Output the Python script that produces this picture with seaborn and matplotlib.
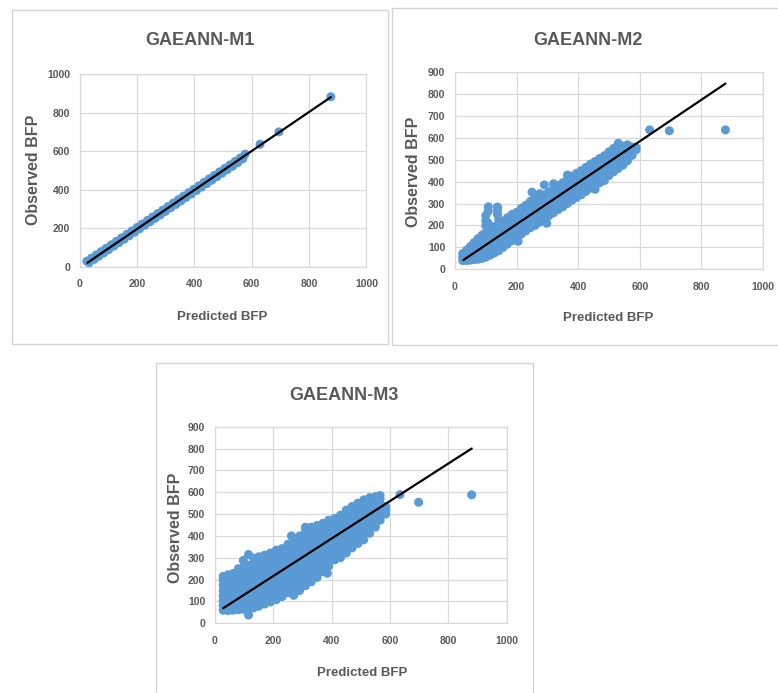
import matplotlib
matplotlib.use("Agg")
import matplotlib.pyplot as plt
import seaborn as sns
import pandas as pd
from matplotlib import font_manager
from matplotlib.patches import Rectangle

# ---------------- data ----------------
titles = ["GAEANN-M1", "GAEANN-M2", "GAEANN-M3"]
x_label = "Predicted BFP"
y_label = "Observed BFP"
x_ticks = [0, 200, 400, 600, 800, 1000]
y_ticks_m1 = [0, 200, 400, 600, 800, 1000]
y_ticks_m23 = [0, 100, 200, 300, 400, 500, 600, 700, 800, 900]

# GAEANN-M1 : points hug the 1:1 line
m1_pred = [25, 33, 41, 50, 58, 67, 75, 84, 92, 101, 110, 119, 128, 137, 146, 155,
           164, 173, 182, 191, 200, 209, 218, 227, 236, 245, 254, 263, 272, 281,
           290, 299, 308, 317, 326, 335, 344, 353, 362, 371, 380, 389, 398, 407,
           416, 425, 434, 443, 452, 461, 470, 479, 488, 497, 506, 515, 524, 533,
           542, 551, 560, 569, 577, 629, 695, 876]
m1_obs = [30, 22, 46, 39, 63, 56, 80, 73, 97, 90, 115, 108, 133, 126, 151, 144,
          169, 162, 187, 180, 205, 198, 223, 216, 241, 234, 259, 252, 277, 270,
          295, 288, 313, 306, 331, 324, 349, 342, 367, 360, 385, 378, 403, 396,
          421, 414, 439, 432, 457, 450, 475, 468, 493, 486, 511, 504, 529, 522,
          547, 540, 565, 560, 585, 636, 700, 882]
m1_trend_x = [27, 876]
m1_trend_y = [22, 880]

# GAEANN-M2 : columns of observed values at each predicted value
m2_pred_cols = [25, 38, 50, 62, 75, 88, 100, 108, 115, 128, 138, 142, 156, 170,
                185, 200, 205, 215, 230, 245, 250, 260, 275, 290, 298, 305, 320,
                335, 350, 365, 380, 395, 410, 425, 440, 455, 470, 485, 500, 515,
                530, 545, 560, 575, 588, 632, 696, 878]
m2_obs_cols = [
    [40, 56, 72],
    [40, 56, 72, 88],
    [42, 58, 74, 90, 104],
    [44, 60, 76, 92, 108, 122],
    [46, 62, 78, 94, 110, 126, 140],
    [50, 68, 86, 104, 122, 140, 156],
    [55, 74, 93, 112, 131, 150, 168, 200, 222, 245],
    [210, 265, 285],
    [65, 84, 103, 122, 141, 160, 178],
    [75, 95, 115, 135, 155, 175, 195],
    [250, 270, 284],
    [85, 105, 125, 145, 165, 185, 205, 225],
    [100, 120, 140, 160, 180, 200, 220],
    [115, 135, 155, 175, 195, 215, 235],
    [130, 150, 170, 190, 210, 230, 250],
    [140, 160, 180, 200, 220, 240, 260],
    [128],
    [160, 180, 200, 220, 240, 260, 278],
    [175, 195, 215, 235, 255, 275, 292],
    [190, 210, 230, 250, 270, 290, 310],
    [352],
    [200, 222, 244, 266, 288, 310, 330],
    [215, 237, 259, 281, 303, 325, 345],
    [230, 252, 274, 296, 318, 340, 385],
    [210],
    [245, 265, 287, 309, 331, 353],
    [258, 280, 302, 324, 346, 368, 390],
    [272, 294, 316, 338, 360, 382],
    [285, 307, 329, 351, 373, 395],
    [300, 322, 344, 366, 388, 410, 430],
    [315, 337, 359, 381, 403, 425],
    [328, 350, 372, 394, 416, 438],
    [340, 362, 384, 406, 428, 450],
    [355, 377, 399, 421, 443, 465],
    [370, 392, 414, 436, 458, 480],
    [365, 382, 404, 426, 448, 470, 492],
    [395, 418, 440, 462, 484, 506],
    [405, 430, 452, 474, 496, 518],
    [428, 450, 472, 494, 516, 536],
    [445, 465, 487, 509, 531, 552],
    [460, 480, 502, 524, 546, 575],
    [475, 497, 519, 541, 562],
    [495, 515, 535, 555, 568],
    [520, 540, 558],
    [545, 555],
    [636],
    [632],
    [636],
]
m2_trend_x = [27, 878]
m2_trend_y = [42, 847]

# GAEANN-M3 : wider cloud
m3_pred_cols = [28, 45, 62, 80, 97, 115, 132, 150, 170, 190, 210, 230, 250, 262,
                270, 290, 310, 330, 350, 370, 385, 390, 410, 430, 450, 470, 490,
                510, 530, 550, 566, 585, 634, 698, 880]
m3_obs_cols = [
    [60, 82, 104, 126, 150, 175, 200, 215],
    [58, 80, 102, 124, 148, 172, 196, 222],
    [60, 84, 108, 132, 156, 180, 204, 228],
    [62, 86, 110, 134, 158, 182, 206, 230, 250],
    [64, 88, 112, 136, 160, 184, 208, 232, 258, 288],
    [38, 66, 90, 115, 140, 165, 190, 215, 240, 265, 315],
    [70, 95, 120, 145, 170, 195, 220, 245, 270, 298],
    [78, 102, 126, 150, 175, 200, 225, 250, 275, 305],
    [88, 112, 136, 160, 185, 210, 235, 260, 285, 312],
    [98, 122, 146, 170, 195, 220, 245, 270, 295, 322],
    [108, 132, 156, 180, 205, 230, 255, 280, 305, 335],
    [122, 146, 170, 195, 220, 245, 270, 295, 320, 342],
    [140, 165, 190, 215, 240, 265, 290, 315, 340, 362],
    [400],
    [128, 155, 180, 205, 230, 255, 280, 305, 330, 355, 372],
    [150, 175, 200, 225, 250, 275, 300, 325, 350, 375, 400],
    [172, 196, 220, 245, 270, 295, 320, 345, 370, 395, 420, 440],
    [190, 215, 240, 265, 290, 315, 340, 365, 390, 415, 440],
    [210, 235, 260, 285, 310, 335, 360, 385, 410, 435, 448],
    [236, 260, 285, 310, 335, 360, 385, 410, 435, 458],
    [229],
    [262, 286, 310, 335, 360, 385, 410, 435, 458, 472],
    [290, 312, 335, 358, 382, 406, 430, 455, 480],
    [300, 325, 350, 374, 398, 422, 446, 470, 495],
    [322, 346, 370, 394, 418, 442, 466, 490, 518],
    [345, 368, 392, 416, 440, 464, 488, 512, 535],
    [365, 390, 414, 438, 462, 486, 510, 532, 550],
    [382, 406, 430, 454, 478, 502, 526, 548, 565],
    [412, 436, 460, 484, 508, 532, 555, 575],
    [440, 464, 488, 512, 536, 558, 580],
    [472, 496, 520, 544, 568, 585],
    [500, 520, 535],
    [589],
    [554],
    [588],
]
m3_trend_x = [28, 880]
m3_trend_y = [69, 800]

# ---------------- style ----------------
sns.set_theme(style="white")
avail = {f.name for f in font_manager.fontManager.ttflist}
HAS_NARROW = "Liberation Sans Narrow" in avail
HFONT = (["Liberation Sans Narrow", "Liberation Sans", "DejaVu Sans"] if HAS_NARROW
         else ["Liberation Sans", "DejaVu Sans"])
VFONT = ["Liberation Sans", "DejaVu Sans"]
plt.rcParams["font.family"] = HFONT

TITLE_SIZE = 16.5 if HAS_NARROW else 13
XLAB_SIZE = 11 if HAS_NARROW else 9.5
TICK_SIZE = 8.8 if HAS_NARROW else 7.5
YLAB_SIZE = 11.5

TXT = "#595959"
GRID = "#d9d9d9"
DOT = "#5b9bd5"

W, H = 778, 693
fig = plt.figure(figsize=(W / 100, H / 100), dpi=100)
fig.patch.set_facecolor("white")


def fx(px):
    return px / W


def fy(py):
    return 1 - py / H


def add_frame(l, t, r, b):
    fig.add_artist(Rectangle((fx(l), fy(b)), fx(r - l), (b - t) / H,
                             transform=fig.transFigure, fill=False,
                             ec="#d4d4d4", lw=1.0, zorder=0))


def long_table(pred_cols, obs_cols):
    px, py = [], []
    for xv, col in zip(pred_cols, obs_cols):
        for yv in col:
            px.append(xv)
            py.append(yv)
    return pd.DataFrame({"pred": px, "obs": py})


panels = [
    dict(df=pd.DataFrame({"pred": m1_pred, "obs": m1_obs}),
         tx=m1_trend_x, ty=m1_trend_y, ymax=1000, yt=y_ticks_m1,
         ax=(79.7, 74, 366.4, 267), frame=(11.5, 10, 388, 343.5),
         title=(200, 45), xlab=(222, 320.5), ylab=(33, 170)),
    dict(df=long_table(m2_pred_cols, m2_obs_cols),
         tx=m2_trend_x, ty=m2_trend_y, ymax=900, yt=y_ticks_m23,
         ax=(455, 72, 763, 269.3), frame=(392.5, 8.5, 790, 345),
         title=(588, 45), xlab=(608.5, 321.5), ylab=(413.5, 171.5)),
    dict(df=long_table(m3_pred_cols, m3_obs_cols),
         tx=m3_trend_x, ty=m3_trend_y, ymax=900, yt=y_ticks_m23,
         ax=(215, 426.7, 506.7, 623.3), frame=(155.5, 363, 533, 700),
         title=(343.5, 399.5), xlab=(362.5, 676), ylab=(176, 528)),
]

for i, p in enumerate(panels):
    add_frame(*p["frame"])
    l, t, r, b = p["ax"]
    ax = fig.add_axes([fx(l), fy(b), fx(r - l), (b - t) / H])
    ax.set_facecolor("none")
    sns.scatterplot(data=p["df"], x="pred", y="obs", ax=ax, color=DOT, s=42,
                    linewidth=0, edgecolor="none", zorder=3, legend=False)
    sns.lineplot(x=p["tx"], y=p["ty"], ax=ax, color="black", linewidth=1.6,
                 zorder=4, legend=False)
    ax.set_xlim(0, 1000)
    ax.set_ylim(0, p["ymax"])
    ax.set_xticks(x_ticks)
    ax.set_yticks(p["yt"])
    ax.set_xticklabels([str(v) for v in x_ticks])
    ax.set_yticklabels([str(v) for v in p["yt"]])
    ax.grid(True, color=GRID, linewidth=0.9, zorder=0)
    ax.set_axisbelow(True)
    for s in ax.spines.values():
        s.set_color(GRID)
        s.set_linewidth(0.9)
    ax.tick_params(axis="both", length=0, labelsize=TICK_SIZE, labelcolor=TXT)
    ax.tick_params(axis="x", pad=9)
    ax.tick_params(axis="y", pad=7)
    for lab in ax.get_xticklabels() + ax.get_yticklabels():
        lab.set_fontweight("bold")
    ax.set_xlabel("")
    ax.set_ylabel("")

    fig.text(fx(p["title"][0]), fy(p["title"][1]), titles[i], ha="center",
             va="baseline", fontsize=TITLE_SIZE, fontweight="bold", color=TXT)
    fig.text(fx(p["xlab"][0]), fy(p["xlab"][1]), x_label, ha="center",
             va="baseline", fontsize=XLAB_SIZE, fontweight="bold", color=TXT)
    fig.text(fx(p["ylab"][0]), fy(p["ylab"][1]), y_label, ha="center",
             va="center", rotation=90, fontsize=YLAB_SIZE, fontweight="bold",
             color=TXT, family=VFONT)

fig.savefig("out.png", dpi=100, facecolor="white")
